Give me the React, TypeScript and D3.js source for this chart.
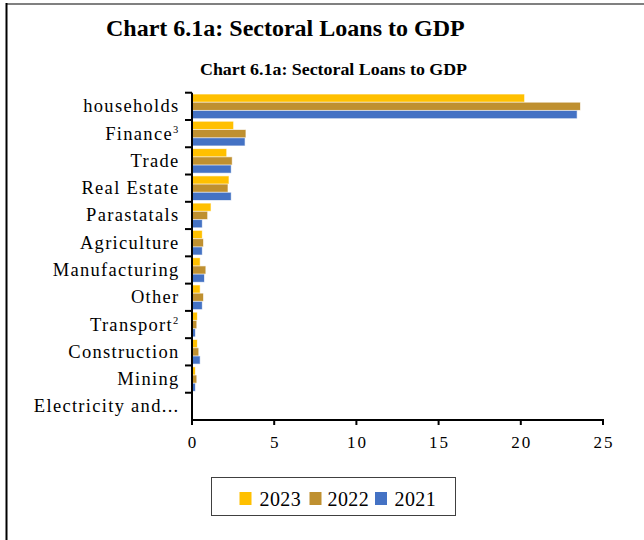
import React from "react";
import * as d3 from "d3";

const categories = [
  "households",
  "Finance",
  "Trade",
  "Real Estate",
  "Parastatals",
  "Agriculture",
  "Manufacturing",
  "Other",
  "Transport",
  "Construction",
  "Mining",
  "Electricity and...",
];
const superscripts = ["", "3", "", "", "", "", "", "", "2", "", "", ""];
const seriesNames = ["2023", "2022", "2021"];
const values2023 = [20.2, 2.5, 2.08, 2.22, 1.13, 0.6, 0.47, 0.47, 0.3, 0.3, 0.18, 0];
const values2022 = [23.6, 3.25, 2.42, 2.16, 0.92, 0.67, 0.81, 0.67, 0.26, 0.38, 0.26, 0];
const values2021 = [23.4, 3.2, 2.36, 2.36, 0.6, 0.6, 0.73, 0.6, 0.18, 0.47, 0.18, 0];
const xTicks = [0, 5, 10, 15, 20, 25];
const colors = ["#FFC000", "#BF9030", "#4472C4"];
const chartTitle = "Chart 6.1a: Sectoral Loans to GDP";

export default function App() {
  const W = 644;
  const H = 540;
  const serif = "'Liberation Serif', 'Times New Roman', serif";
  const x = d3.scaleLinear().domain([0, 25]).range([192, 603]);
  const y = d3.scaleBand<string>().domain(categories).range([92.7, 420]).padding(0);
  const inner = d3
    .scaleBand<string>()
    .domain(seriesNames)
    .range([0, y.bandwidth()])
    .paddingInner(0.125)
    .paddingOuter(0.22);
  const series = [values2023, values2022, values2021];
  const boundaries = categories.map((c) => y(c) as number);

  return (
    <svg
      width={W}
      height={H}
      style={{ position: "absolute", left: 0, top: 0, background: "#fff" }}
      fontFamily={serif}
    >
      {/* frame */}
      <line x1={6} x2={W} y1={4} y2={4} stroke="#808080" strokeWidth={2} />
      <line x1={6.5} x2={6.5} y1={3} y2={H} stroke="#000" strokeWidth={2} />

      {/* titles */}
      <text x={106} y={35.5} fontSize={24} fontWeight="bold" fill="#000">
        {chartTitle}
      </text>
      <text x={200} y={75} fontSize={16} fontWeight="bold" fill="#000" textLength={267} lengthAdjust="spacingAndGlyphs">
        {chartTitle}
      </text>

      {/* bars */}
      {categories.map((c, i) => (
        <g key={c} transform={`translate(0,${y(c)})`}>
          {series.map((vals, s) => (
            <rect
              key={s}
              x={x(0)}
              y={inner(seriesNames[s]) as number}
              width={Math.max(0, x(vals[i]) - x(0))}
              height={inner.bandwidth()}
              fill={colors[s]}
              stroke={colors[s]}
              strokeOpacity={0.35}
              strokeWidth={1}
            />
          ))}
        </g>
      ))}

      {/* y axis */}
      <line x1={192} x2={192} y1={92.7} y2={420} stroke="#000" strokeWidth={2} />
      {boundaries.map((b, i) => (
        <line key={i} x1={185} x2={192} y1={b} y2={b} stroke="#000" strokeWidth={2} />
      ))}
      {categories.map((c, i) => (
        <text
          key={c}
          x={179.5}
          y={(y(c) as number) + y.bandwidth() / 2 + 6}
          textAnchor="end"
          fontSize={18.5}
          letterSpacing={1.3}
          fill="#000"
        >
          {c}
          {superscripts[i] ? (
            <tspan fontSize={10.5} dy={-6.5}>
              {superscripts[i]}
            </tspan>
          ) : null}
        </text>
      ))}

      {/* x axis */}
      <line x1={191} x2={604} y1={420} y2={420} stroke="#000" strokeWidth={2} />
      {xTicks.map((t) => (
        <g key={t}>
          <line x1={x(t)} x2={x(t)} y1={420} y2={425} stroke="#000" strokeWidth={2} />
          <text
            x={x(t) + 1}
            y={447.5}
            textAnchor="middle"
            fontSize={17}
            letterSpacing={2}
            fill="#000"
          >
            {t}
          </text>
        </g>
      ))}

      {/* legend */}
      <rect x={211.5} y={477.5} width={244} height={38} fill="#fff" stroke="#404040" strokeWidth={1} />
      {seriesNames.map((n, s) => {
        const sx = [239.5, 309.5, 375][s];
        const tx = [259.5, 327.5, 394.5][s];
        return (
          <g key={n}>
            <rect x={sx} y={492} width={12} height={13} fill={colors[s]} />
            <text x={tx} y={506} fontSize={20} letterSpacing={0.4} fill="#000">
              {n}
            </text>
          </g>
        );
      })}
    </svg>
  );
}
